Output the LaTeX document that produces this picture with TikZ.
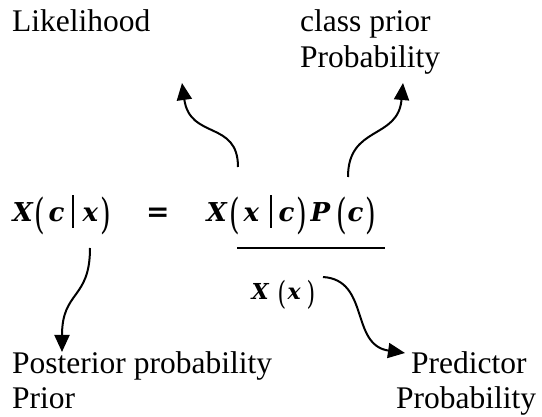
\documentclass[tikz,border=0pt]{standalone}
\usepackage{graphicx}
\usepackage{fontspec}
\setmainfont{Liberation Serif}
\newfontfamily\eqf{DejaVu Serif}
\usetikzlibrary{arrows.meta}
\newcommand{\gat}[2]{\makebox[0pt][l]{\hspace*{#1pt}#2}}
\newcommand{\mv}[1]{{\bfseries\itshape #1}}
\newcommand{\pl}{\raisebox{-7pt}{\scalebox{1.05}[1.6]{(}}}
\newcommand{\pr}{\raisebox{-7pt}{\scalebox{1.05}[1.6]{)}}}
\newcommand{\mbar}{\rule[-6pt]{2.2pt}{33pt}}
\begin{document}
\begin{tikzpicture}[x=1pt,y=-1pt,
  lbl/.style={font=\fontsize{31.5}{36}\selectfont, inner sep=0pt, anchor=base west},
  eq/.style={font=\eqf\fontsize{26}{30}\selectfont, inner sep=0pt, anchor=base west},
  eqs/.style={font=\eqf\fontsize{22}{26}\selectfont, inner sep=0pt, anchor=base west},
  arr/.style={line width=2pt, -{Triangle[length=17pt,width=15pt]}}]
\useasboundingbox (0,0) rectangle (542,417);
% labels
\node[lbl] (lik) at (12,32) {Likelihood};
\node[lbl] (cp1) at (300,32) {class prior};
\node[lbl] (cp2) at (300,68) {Probability};
\node[lbl] (post) at (12,374) {Posterior probability};
\node[lbl] (prior) at (12,409) {Prior};
\node[lbl] (pred1) at (411,374) {Predictor};
\node[lbl] (pred2) at (396,409) {Probability};
% formula
\node[eq] (lhs) at (12,222) {\gat{0}{\mv{X}}\gat{22}{\pl}\gat{36}{\mv{c}}\gat{59}{\mbar}\gat{70}{\mv{x}}\gat{88}{\pr}};
\node[eq,font=\eqf\fontsize{28}{32}\selectfont\bfseries] (eqsign) at (146,222) {=};
\node[eq] (num) at (206,222) {\gat{0}{\mv{X}}\gat{23}{\pl}\gat{37}{\mv{x}}\gat{63}{\mbar}\gat{72}{\mv{c}}\gat{90}{\pr}\gat{104}{\mv{P}}\gat{130}{\pl}\gat{141}{\mv{c}}\gat{159}{\pr}};
\node[eqs] (den) at (251,300) {\gat{0}{\mv{X}}\gat{26}{\raisebox{-5pt}{\scalebox{1}[1.45]{(}}}\gat{36}{\mv{x}}\gat{55}{\raisebox{-5pt}{\scalebox{1}[1.45]{)}}}};
\coordinate (fl) at (237,248);
\coordinate (fr) at (385,248);
\draw[line width=1.6pt] (fl) -- (fr);
% arrows
\coordinate (a1s) at (238,167);
\coordinate (a1e) at (182,83);
\draw[arr] (a1s) .. controls (238,120) and (190,140) .. (a1e);
\coordinate (a2s) at (348,177);
\coordinate (a2e) at (403,83);
\draw[arr] (a2s) .. controls (348,125) and (398,140) .. (a2e);
\coordinate (a3s) at (90,248);
\coordinate (a3e) at (62,352);
\draw[arr] (a3s) .. controls (90,300) and (62,290) .. (a3e);
\coordinate (a4s) at (323,277);
\coordinate (a4e) at (405,353);
\draw[arr] (a4s) .. controls (370,280) and (350,345) .. (a4e);
\end{tikzpicture}
\end{document}
